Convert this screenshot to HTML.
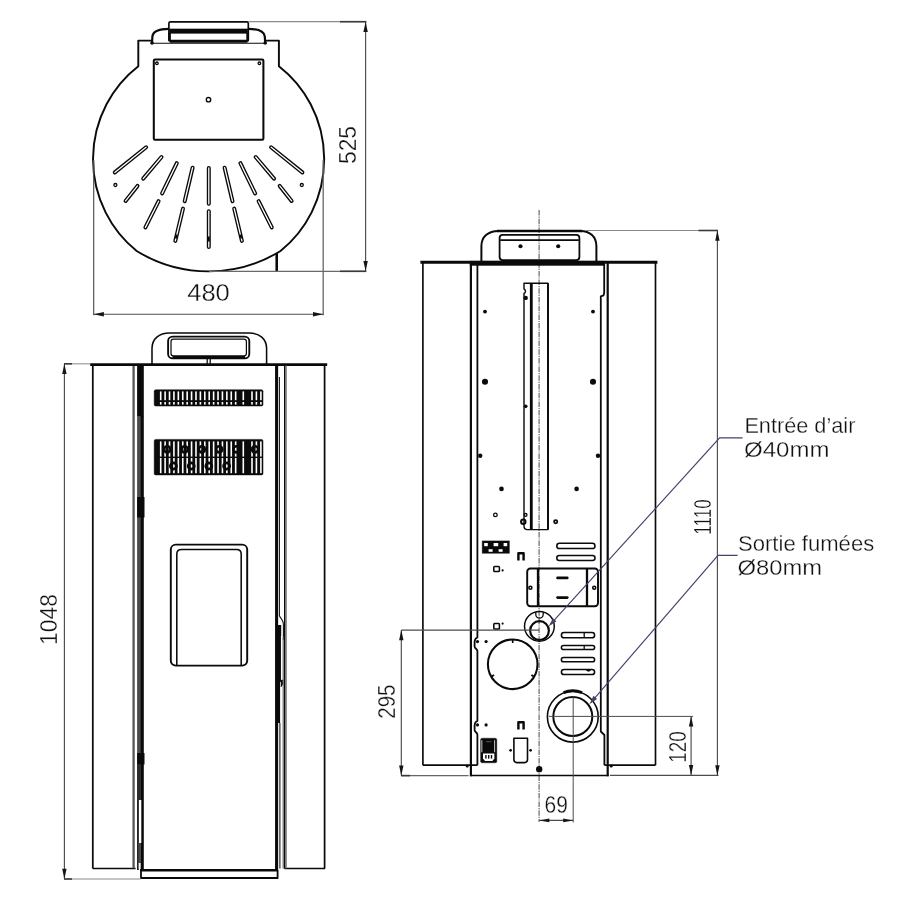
<!DOCTYPE html>
<html lang="fr">
<head>
<meta charset="utf-8">
<title>Dimensions</title>
<style>
html,body{margin:0;padding:0;background:#fff;}
body{width:900px;height:900px;overflow:hidden;}
svg{display:block;will-change:transform;}
text{font-family:"Liberation Sans",sans-serif;}
.t{fill:#111;stroke:#fff;stroke-width:0.3px;}
.n{fill:#111;stroke:#fff;stroke-width:0.3px;}
</style>
</head>
<body>
<svg width="900" height="900" viewBox="0 0 900 900">
<rect width="900" height="900" fill="#fff"/>
<g id="top-view" stroke-linejoin="round">
<path d="M152.0,40.6 L138.3,40.6 L138.3,66.2 A115 117 0 0 0 136.7,251.0 A137 137 0 0 0 280.5,251.0 A115 117 0 0 0 278.9,66.2 L278.9,40.6 L265.2,40.6" stroke="#0a0a0a" stroke-width="1.92" fill="none" />
<line x1="152.00" y1="43.20" x2="265.20" y2="43.20" stroke="#0a0a0a" stroke-width="1.02" />
<rect x="168.90" y="21.80" width="79.40" height="19.40" rx="1.5" stroke="#0a0a0a" stroke-width="1.66" fill="none"/>
<rect x="169.40" y="28.90" width="78.40" height="4.50" rx="0" stroke="#0a0a0a" stroke-width="0.4" fill="#0a0a0a"/>
<line x1="169.80" y1="41.30" x2="247.40" y2="41.30" stroke="#0a0a0a" stroke-width="3.07" />
<line x1="169.60" y1="33.00" x2="169.60" y2="41.00" stroke="#0a0a0a" stroke-width="2.56" />
<line x1="247.60" y1="33.00" x2="247.60" y2="41.00" stroke="#0a0a0a" stroke-width="2.56" />
<path d="M168.9,28.9 C160,28.9 153.2,30.5 152.4,36.5 L152.0,43.5" stroke="#0a0a0a" stroke-width="2.18" fill="none" />
<path d="M248.3,28.9 C257.2,28.9 264,30.5 264.8,36.5 L265.2,43.5" stroke="#0a0a0a" stroke-width="2.18" fill="none" />
<circle cx="152.00" cy="43.00" r="1.83" fill="#0a0a0a"/>
<circle cx="265.20" cy="43.00" r="1.83" fill="#0a0a0a"/>
<rect x="153.80" y="59.50" width="109.60" height="80.30" rx="1.2" stroke="#0a0a0a" stroke-width="2.05" fill="none"/>
<circle cx="156.90" cy="63.30" r="1.30" stroke="#0a0a0a" stroke-width="1.28" fill="none"/>
<circle cx="259.40" cy="63.30" r="1.30" stroke="#0a0a0a" stroke-width="1.28" fill="none"/>
<circle cx="208.50" cy="99.70" r="2.20" stroke="#0a0a0a" stroke-width="1.41" fill="none"/>
<line x1="146.10" y1="147.30" x2="114.80" y2="172.40" stroke="#0a0a0a" stroke-width="4.0" stroke-linecap="round"/>
<line x1="146.10" y1="147.30" x2="114.80" y2="172.40" stroke="#fff" stroke-width="1.3" stroke-linecap="round"/>
<line x1="271.10" y1="147.30" x2="302.40" y2="172.40" stroke="#0a0a0a" stroke-width="4.0" stroke-linecap="round"/>
<line x1="271.10" y1="147.30" x2="302.40" y2="172.40" stroke="#fff" stroke-width="1.3" stroke-linecap="round"/>
<line x1="161.50" y1="157.00" x2="143.20" y2="178.60" stroke="#0a0a0a" stroke-width="4.0" stroke-linecap="round"/>
<line x1="161.50" y1="157.00" x2="143.20" y2="178.60" stroke="#fff" stroke-width="1.3" stroke-linecap="round"/>
<line x1="255.70" y1="157.00" x2="274.00" y2="178.60" stroke="#0a0a0a" stroke-width="4.0" stroke-linecap="round"/>
<line x1="255.70" y1="157.00" x2="274.00" y2="178.60" stroke="#fff" stroke-width="1.3" stroke-linecap="round"/>
<line x1="176.80" y1="163.20" x2="162.10" y2="193.40" stroke="#0a0a0a" stroke-width="4.0" stroke-linecap="round"/>
<line x1="176.80" y1="163.20" x2="162.10" y2="193.40" stroke="#fff" stroke-width="1.3" stroke-linecap="round"/>
<line x1="240.40" y1="163.20" x2="255.10" y2="193.40" stroke="#0a0a0a" stroke-width="4.0" stroke-linecap="round"/>
<line x1="240.40" y1="163.20" x2="255.10" y2="193.40" stroke="#fff" stroke-width="1.3" stroke-linecap="round"/>
<line x1="192.60" y1="167.70" x2="184.70" y2="201.20" stroke="#0a0a0a" stroke-width="4.0" stroke-linecap="round"/>
<line x1="192.60" y1="167.70" x2="184.70" y2="201.20" stroke="#fff" stroke-width="1.3" stroke-linecap="round"/>
<line x1="224.60" y1="167.70" x2="232.50" y2="201.20" stroke="#0a0a0a" stroke-width="4.0" stroke-linecap="round"/>
<line x1="224.60" y1="167.70" x2="232.50" y2="201.20" stroke="#fff" stroke-width="1.3" stroke-linecap="round"/>
<line x1="137.50" y1="185.90" x2="125.60" y2="200.90" stroke="#0a0a0a" stroke-width="4.0" stroke-linecap="round"/>
<line x1="137.50" y1="185.90" x2="125.60" y2="200.90" stroke="#fff" stroke-width="1.3" stroke-linecap="round"/>
<line x1="279.70" y1="185.90" x2="291.60" y2="200.90" stroke="#0a0a0a" stroke-width="4.0" stroke-linecap="round"/>
<line x1="279.70" y1="185.90" x2="291.60" y2="200.90" stroke="#fff" stroke-width="1.3" stroke-linecap="round"/>
<line x1="158.60" y1="201.20" x2="145.40" y2="227.40" stroke="#0a0a0a" stroke-width="4.0" stroke-linecap="round"/>
<line x1="158.60" y1="201.20" x2="145.40" y2="227.40" stroke="#fff" stroke-width="1.3" stroke-linecap="round"/>
<line x1="258.60" y1="201.20" x2="271.80" y2="227.40" stroke="#0a0a0a" stroke-width="4.0" stroke-linecap="round"/>
<line x1="258.60" y1="201.20" x2="271.80" y2="227.40" stroke="#fff" stroke-width="1.3" stroke-linecap="round"/>
<line x1="183.00" y1="208.60" x2="175.30" y2="240.90" stroke="#0a0a0a" stroke-width="4.0" stroke-linecap="round"/>
<line x1="183.00" y1="208.60" x2="175.30" y2="240.90" stroke="#fff" stroke-width="1.3" stroke-linecap="round"/>
<line x1="234.20" y1="208.60" x2="241.90" y2="240.90" stroke="#0a0a0a" stroke-width="4.0" stroke-linecap="round"/>
<line x1="234.20" y1="208.60" x2="241.90" y2="240.90" stroke="#fff" stroke-width="1.3" stroke-linecap="round"/>
<line x1="208.80" y1="167.90" x2="208.80" y2="203.80" stroke="#0a0a0a" stroke-width="4.0" stroke-linecap="round"/>
<line x1="208.80" y1="167.90" x2="208.80" y2="203.80" stroke="#fff" stroke-width="1.3" stroke-linecap="round"/>
<line x1="208.80" y1="211.20" x2="208.80" y2="247.00" stroke="#0a0a0a" stroke-width="4.0" stroke-linecap="round"/>
<line x1="208.80" y1="211.20" x2="208.80" y2="247.00" stroke="#fff" stroke-width="1.3" stroke-linecap="round"/>
<line x1="176.60" y1="234.50" x2="175.80" y2="238.50" stroke="#0a0a0a" stroke-width="2.05" />
<line x1="208.80" y1="236.50" x2="208.80" y2="241.50" stroke="#0a0a0a" stroke-width="2.05" />
<line x1="240.60" y1="234.50" x2="241.40" y2="238.50" stroke="#0a0a0a" stroke-width="2.05" />
<circle cx="115.40" cy="185.00" r="1.50" stroke="#0a0a0a" stroke-width="1.28" fill="none"/>
<circle cx="301.80" cy="185.00" r="1.50" stroke="#0a0a0a" stroke-width="1.28" fill="none"/>
<line x1="276.70" y1="253.00" x2="276.70" y2="271.00" stroke="#0a0a0a" stroke-width="2.56" />
</g>
<g id="front-view" stroke-linejoin="round">
<path d="M152.0,364 L152.0,348.5 C152.0,339 159,333.0 169.5,333.0 L249.0,333.0 C259.5,333.0 266.6,339 266.6,348.5 L266.6,364" stroke="#0a0a0a" stroke-width="1.54" fill="none" />
<rect x="168.10" y="336.60" width="81.20" height="21.80" rx="4.5" stroke="#0a0a0a" stroke-width="1.86" fill="none"/>
<rect x="171.00" y="339.10" width="75.40" height="16.80" rx="2.4" stroke="#0a0a0a" stroke-width="1.22" fill="none"/>
<line x1="172.50" y1="357.40" x2="245.00" y2="357.40" stroke="#0a0a0a" stroke-width="2.94" />
<line x1="207.20" y1="357.60" x2="207.20" y2="364.00" stroke="#0a0a0a" stroke-width="1.28" />
<line x1="210.20" y1="357.60" x2="210.20" y2="364.00" stroke="#0a0a0a" stroke-width="1.28" />
<line x1="90.20" y1="364.70" x2="327.20" y2="364.70" stroke="#0a0a0a" stroke-width="2.82" />
<line x1="92.80" y1="365.00" x2="92.80" y2="868.60" stroke="#0a0a0a" stroke-width="1.73" />
<line x1="324.60" y1="365.00" x2="324.60" y2="868.60" stroke="#0a0a0a" stroke-width="1.73" />
<line x1="92.70" y1="868.60" x2="135.60" y2="868.60" stroke="#0a0a0a" stroke-width="1.54" />
<line x1="284.40" y1="868.60" x2="325.00" y2="868.60" stroke="#0a0a0a" stroke-width="1.54" />
<line x1="133.60" y1="366.00" x2="133.60" y2="868.20" stroke="#565656" stroke-width="2.3" />
<rect x="137.1" y="365.5" width="6.7" height="51" fill="#0a0a0a"/>
<rect x="137.1" y="416" width="3.4" height="384" fill="#4a4a4a"/>
<rect x="140.3" y="416" width="3.5" height="454" fill="#0a0a0a"/>
<rect x="137.1" y="497" width="7.4" height="20.5" fill="#0a0a0a"/>
<rect x="137.1" y="753" width="7.4" height="11.5" fill="#0a0a0a"/>
<rect x="137.1" y="764" width="3.4" height="36" fill="#2a2a2a"/>
<rect x="138.7" y="800" width="2.6" height="43" fill="#fff"/>
<rect x="137.1" y="800" width="1.7" height="70" fill="#0a0a0a"/>
<rect x="138.7" y="843" width="2.0" height="20" fill="#4a4a4a"/>
<rect x="138.7" y="863" width="1.8" height="6" fill="#fff"/>
<line x1="276.60" y1="365.00" x2="276.60" y2="870.00" stroke="#0a0a0a" stroke-width="3.07" />
<line x1="279.40" y1="377.00" x2="279.40" y2="616.00" stroke="#0a0a0a" stroke-width="1.02" />
<path d="M279.4,615.5 C280.2,618.5 283.2,619 283.4,624 L283.4,640" stroke="#0a0a0a" stroke-width="1.02" fill="none" />
<line x1="278.90" y1="625.00" x2="278.90" y2="636.00" stroke="#0a0a0a" stroke-width="4.61" />
<line x1="278.40" y1="636.00" x2="278.40" y2="682.00" stroke="#0a0a0a" stroke-width="5.12" />
<line x1="278.00" y1="682.00" x2="278.00" y2="723.00" stroke="#0a0a0a" stroke-width="4.22" />
<path d="M281.0,680 L283.2,680 L283.2,684 L281.0,687 Z" stroke="#0a0a0a" stroke-width="0.4" fill="#0a0a0a" />
<line x1="279.90" y1="723.00" x2="279.90" y2="868.60" stroke="#0a0a0a" stroke-width="1.02" />
<line x1="283.20" y1="637.00" x2="283.20" y2="868.60" stroke="#666" stroke-width="1.2" />
<rect x="284.0" y="365.5" width="1.4" height="503" fill="#0a0a0a"/>
<rect x="285.4" y="365.5" width="1.3" height="503" fill="#666"/>
<path d="M141.0,870 L141.0,878.0 L277.6,878.0 L277.6,870" stroke="#0a0a0a" stroke-width="1.79" fill="none" />
<line x1="140.00" y1="870.20" x2="278.00" y2="870.20" stroke="#0a0a0a" stroke-width="2.56" />
<rect x="154.20" y="389.80" width="108.80" height="16.20" rx="1.5" stroke="#0a0a0a" stroke-width="0.5" fill="#0a0a0a"/>
<rect x="159.90" y="391.4" width="1.6" height="8.8" fill="#fff"/>
<rect x="159.90" y="402.0" width="1.6" height="2.6" fill="#fff"/>
<rect x="164.31" y="391.4" width="1.6" height="8.8" fill="#fff"/>
<rect x="164.31" y="402.0" width="1.6" height="2.6" fill="#fff"/>
<rect x="168.72" y="391.4" width="1.6" height="8.8" fill="#fff"/>
<rect x="168.72" y="402.0" width="1.6" height="2.6" fill="#fff"/>
<rect x="173.13" y="391.4" width="1.6" height="8.8" fill="#fff"/>
<rect x="173.13" y="402.0" width="1.6" height="2.6" fill="#fff"/>
<rect x="177.54" y="391.4" width="1.6" height="8.8" fill="#fff"/>
<rect x="177.54" y="402.0" width="1.6" height="2.6" fill="#fff"/>
<rect x="181.95" y="391.4" width="1.6" height="8.8" fill="#fff"/>
<rect x="181.95" y="402.0" width="1.6" height="2.6" fill="#fff"/>
<rect x="186.36" y="391.4" width="1.6" height="8.8" fill="#fff"/>
<rect x="186.36" y="402.0" width="1.6" height="2.6" fill="#fff"/>
<rect x="190.77" y="391.4" width="1.6" height="8.8" fill="#fff"/>
<rect x="190.77" y="402.0" width="1.6" height="2.6" fill="#fff"/>
<rect x="195.18" y="391.4" width="1.6" height="8.8" fill="#fff"/>
<rect x="195.18" y="402.0" width="1.6" height="2.6" fill="#fff"/>
<rect x="199.59" y="391.4" width="1.6" height="8.8" fill="#fff"/>
<rect x="199.59" y="402.0" width="1.6" height="2.6" fill="#fff"/>
<rect x="204.00" y="391.4" width="1.6" height="8.8" fill="#fff"/>
<rect x="204.00" y="402.0" width="1.6" height="2.6" fill="#fff"/>
<rect x="208.41" y="391.4" width="1.6" height="8.8" fill="#fff"/>
<rect x="208.41" y="402.0" width="1.6" height="2.6" fill="#fff"/>
<rect x="212.82" y="391.4" width="1.6" height="8.8" fill="#fff"/>
<rect x="212.82" y="402.0" width="1.6" height="2.6" fill="#fff"/>
<rect x="217.23" y="391.4" width="1.6" height="8.8" fill="#fff"/>
<rect x="217.23" y="402.0" width="1.6" height="2.6" fill="#fff"/>
<rect x="221.64" y="391.4" width="1.6" height="8.8" fill="#fff"/>
<rect x="221.64" y="402.0" width="1.6" height="2.6" fill="#fff"/>
<rect x="226.05" y="391.4" width="1.6" height="8.8" fill="#fff"/>
<rect x="226.05" y="402.0" width="1.6" height="2.6" fill="#fff"/>
<rect x="230.46" y="391.4" width="1.6" height="8.8" fill="#fff"/>
<rect x="230.46" y="402.0" width="1.6" height="2.6" fill="#fff"/>
<rect x="234.87" y="391.4" width="1.6" height="8.8" fill="#fff"/>
<rect x="234.87" y="402.0" width="1.6" height="2.6" fill="#fff"/>
<rect x="242.50" y="391.4" width="1.6" height="8.8" fill="#fff"/>
<rect x="242.50" y="402.0" width="1.6" height="2.6" fill="#fff"/>
<rect x="251.20" y="391.4" width="1.6" height="8.8" fill="#fff"/>
<rect x="251.20" y="402.0" width="1.6" height="2.6" fill="#fff"/>
<rect x="255.60" y="391.4" width="1.6" height="8.8" fill="#fff"/>
<rect x="255.60" y="402.0" width="1.6" height="2.6" fill="#fff"/>
<rect x="260.10" y="391.4" width="1.6" height="8.8" fill="#fff"/>
<rect x="260.10" y="402.0" width="1.6" height="2.6" fill="#fff"/>
<rect x="154.20" y="439.40" width="108.80" height="35.50" rx="1.5" stroke="#0a0a0a" stroke-width="0.5" fill="#0a0a0a"/>
<rect x="159.90" y="441.4" width="1.6" height="15.2" fill="#fff"/>
<rect x="159.90" y="458.0" width="1.6" height="15.2" fill="#fff"/>
<rect x="164.31" y="441.4" width="1.6" height="15.2" fill="#fff"/>
<rect x="164.31" y="458.0" width="1.6" height="15.2" fill="#fff"/>
<rect x="168.72" y="441.4" width="1.6" height="15.2" fill="#fff"/>
<rect x="168.72" y="458.0" width="1.6" height="15.2" fill="#fff"/>
<rect x="173.13" y="441.4" width="1.6" height="15.2" fill="#fff"/>
<rect x="173.13" y="458.0" width="1.6" height="15.2" fill="#fff"/>
<rect x="177.54" y="441.4" width="1.6" height="15.2" fill="#fff"/>
<rect x="177.54" y="458.0" width="1.6" height="15.2" fill="#fff"/>
<rect x="181.95" y="441.4" width="1.6" height="15.2" fill="#fff"/>
<rect x="181.95" y="458.0" width="1.6" height="15.2" fill="#fff"/>
<rect x="186.36" y="441.4" width="1.6" height="15.2" fill="#fff"/>
<rect x="186.36" y="458.0" width="1.6" height="15.2" fill="#fff"/>
<rect x="190.77" y="441.4" width="1.6" height="15.2" fill="#fff"/>
<rect x="190.77" y="458.0" width="1.6" height="15.2" fill="#fff"/>
<rect x="195.18" y="441.4" width="1.6" height="15.2" fill="#fff"/>
<rect x="195.18" y="458.0" width="1.6" height="15.2" fill="#fff"/>
<rect x="199.59" y="441.4" width="1.6" height="15.2" fill="#fff"/>
<rect x="199.59" y="458.0" width="1.6" height="15.2" fill="#fff"/>
<rect x="204.00" y="441.4" width="1.6" height="15.2" fill="#fff"/>
<rect x="204.00" y="458.0" width="1.6" height="15.2" fill="#fff"/>
<rect x="208.41" y="441.4" width="1.6" height="15.2" fill="#fff"/>
<rect x="208.41" y="458.0" width="1.6" height="15.2" fill="#fff"/>
<rect x="212.82" y="441.4" width="1.6" height="15.2" fill="#fff"/>
<rect x="212.82" y="458.0" width="1.6" height="15.2" fill="#fff"/>
<rect x="217.23" y="441.4" width="1.6" height="15.2" fill="#fff"/>
<rect x="217.23" y="458.0" width="1.6" height="15.2" fill="#fff"/>
<rect x="221.64" y="441.4" width="1.6" height="15.2" fill="#fff"/>
<rect x="221.64" y="458.0" width="1.6" height="15.2" fill="#fff"/>
<rect x="226.05" y="441.4" width="1.6" height="15.2" fill="#fff"/>
<rect x="226.05" y="458.0" width="1.6" height="15.2" fill="#fff"/>
<rect x="230.46" y="441.4" width="1.6" height="15.2" fill="#fff"/>
<rect x="230.46" y="458.0" width="1.6" height="15.2" fill="#fff"/>
<rect x="234.87" y="441.4" width="1.6" height="15.2" fill="#fff"/>
<rect x="234.87" y="458.0" width="1.6" height="15.2" fill="#fff"/>
<rect x="242.50" y="441.4" width="1.6" height="15.2" fill="#fff"/>
<rect x="242.50" y="458.0" width="1.6" height="15.2" fill="#fff"/>
<rect x="251.20" y="441.4" width="1.6" height="15.2" fill="#fff"/>
<rect x="251.20" y="458.0" width="1.6" height="15.2" fill="#fff"/>
<rect x="255.60" y="441.4" width="1.6" height="15.2" fill="#fff"/>
<rect x="255.60" y="458.0" width="1.6" height="15.2" fill="#fff"/>
<rect x="260.10" y="441.4" width="1.6" height="15.2" fill="#fff"/>
<rect x="260.10" y="458.0" width="1.6" height="15.2" fill="#fff"/>
<circle cx="167.30" cy="449.3" r="3.1" fill="none" stroke="#0a0a0a" stroke-width="2.6"/>
<circle cx="184.60" cy="449.3" r="3.1" fill="none" stroke="#0a0a0a" stroke-width="2.6"/>
<circle cx="201.90" cy="449.3" r="3.1" fill="none" stroke="#0a0a0a" stroke-width="2.6"/>
<circle cx="219.20" cy="449.3" r="3.1" fill="none" stroke="#0a0a0a" stroke-width="2.6"/>
<circle cx="236.50" cy="449.3" r="3.1" fill="none" stroke="#0a0a0a" stroke-width="2.6"/>
<circle cx="255.00" cy="449.3" r="3.1" fill="none" stroke="#0a0a0a" stroke-width="2.6"/>
<circle cx="173.40" cy="466.0" r="3.1" fill="none" stroke="#0a0a0a" stroke-width="2.6"/>
<circle cx="191.20" cy="466.0" r="3.1" fill="none" stroke="#0a0a0a" stroke-width="2.6"/>
<circle cx="208.80" cy="466.0" r="3.1" fill="none" stroke="#0a0a0a" stroke-width="2.6"/>
<circle cx="226.60" cy="466.0" r="3.1" fill="none" stroke="#0a0a0a" stroke-width="2.6"/>
<rect x="170.80" y="544.60" width="76.40" height="121.00" rx="5" stroke="#0a0a0a" stroke-width="1.92" fill="none"/>
<path d="M176.8,665.2 L176.8,554 C176.8,551 178.5,549.4 181.5,549.4 L236.5,549.4 C239.5,549.4 241.2,551 241.2,554 L241.2,665.2" stroke="#0a0a0a" stroke-width="1.54" fill="none" />
</g>
<g id="rear-view" stroke-linejoin="round">
<line x1="539.10" y1="210.00" x2="539.10" y2="822.00" stroke="#6c6c6c" stroke-width="1.25" stroke-dasharray="5.5 1 1.2 1"/>
<line x1="497.00" y1="231.00" x2="582.00" y2="231.00" stroke="#0a0a0a" stroke-width="2.43" />
<path d="M481.4,262 L481.4,246 C481.4,237 488,230.9 498.5,230.9 L580.5,230.9 C590,230.9 596.4,237 596.4,246 L596.4,262" stroke="#0a0a0a" stroke-width="1.98" fill="none" />
<rect x="499.60" y="234.90" width="79.80" height="25.20" rx="3" stroke="#0a0a0a" stroke-width="1.79" fill="none"/>
<line x1="500.20" y1="240.10" x2="578.80" y2="240.10" stroke="#0a0a0a" stroke-width="1.6" />
<circle cx="520.50" cy="246.30" r="2.07" fill="#0a0a0a"/>
<circle cx="558.20" cy="246.30" r="2.07" fill="#0a0a0a"/>
<line x1="420.40" y1="262.30" x2="657.40" y2="262.30" stroke="#0a0a0a" stroke-width="2.94" />
<rect x="469.8" y="260.9" width="135.0" height="4.8" fill="#0a0a0a"/>
<line x1="422.90" y1="263.00" x2="422.90" y2="765.20" stroke="#0a0a0a" stroke-width="1.66" />
<line x1="655.50" y1="263.00" x2="655.50" y2="765.20" stroke="#0a0a0a" stroke-width="1.66" />
<line x1="422.90" y1="765.20" x2="477.40" y2="765.20" stroke="#0a0a0a" stroke-width="1.66" />
<line x1="604.40" y1="765.20" x2="655.50" y2="765.20" stroke="#0a0a0a" stroke-width="1.66" />
<line x1="470.90" y1="263.00" x2="470.90" y2="776.20" stroke="#0a0a0a" stroke-width="2.18" />
<line x1="607.70" y1="263.00" x2="607.70" y2="776.20" stroke="#0a0a0a" stroke-width="2.18" />
<line x1="470.00" y1="775.50" x2="608.60" y2="775.50" stroke="#0a0a0a" stroke-width="1.6" />
<path d="M477.4,263 L477.4,637.5 C474.6,638.5 474.6,640 474.6,642 L474.6,646.5 C474.6,648.5 477.4,649 477.4,651 L477.4,721 C474.6,722 474.6,723.5 474.6,725.5 L474.6,730 C474.6,732 477.4,732.5 477.4,734.5 L477.4,765.2" stroke="#0a0a0a" stroke-width="1.79" fill="none" />
<path d="M604.2,263 L604.2,292.5 L603.6,295.4 L600.8,296.4 L600.8,731.5 L604.4,735 L604.4,765.2" stroke="#0a0a0a" stroke-width="1.79" fill="none" />
<path d="M548.0,529.6 L548.0,283.2 L524.0,283.2 L524.0,289 C526,290 526,292.5 524.0,293.5 L524.0,526 C524.0,528.5 525,529.6 527.5,529.6 Z" stroke="#0a0a0a" stroke-width="1.41" fill="none" />
<line x1="548.00" y1="283.20" x2="548.00" y2="529.60" stroke="#0a0a0a" stroke-width="1.86" />
<line x1="531.30" y1="283.20" x2="531.30" y2="529.60" stroke="#0a0a0a" stroke-width="2.82" />
<circle cx="485.00" cy="311.60" r="1.95" fill="#0a0a0a"/>
<circle cx="593.00" cy="311.60" r="1.95" fill="#0a0a0a"/>
<circle cx="485.00" cy="381.70" r="3.05" fill="#0a0a0a"/>
<circle cx="593.00" cy="381.70" r="3.05" fill="#0a0a0a"/>
<circle cx="480.20" cy="455.80" r="2.20" fill="#0a0a0a"/>
<circle cx="598.00" cy="455.80" r="2.20" fill="#0a0a0a"/>
<circle cx="501.50" cy="488.90" r="2.32" fill="#0a0a0a"/>
<circle cx="576.60" cy="488.90" r="2.32" fill="#0a0a0a"/>
<circle cx="525.70" cy="297.90" r="2.20" fill="#0a0a0a"/>
<circle cx="525.70" cy="406.30" r="1.83" fill="#0a0a0a"/>
<circle cx="495.40" cy="514.90" r="1.80" stroke="#0a0a0a" stroke-width="1.28" fill="none"/>
<circle cx="525.60" cy="514.90" r="1.40" stroke="#0a0a0a" stroke-width="1.28" fill="none"/>
<circle cx="523.30" cy="521.70" r="2.20" stroke="#0a0a0a" stroke-width="2.05" fill="none"/>
<circle cx="555.70" cy="521.70" r="1.60" stroke="#0a0a0a" stroke-width="1.79" fill="none"/>
<rect x="482.20" y="540.90" width="27.20" height="12.40" rx="0" stroke="#0a0a0a" stroke-width="0.4" fill="#0a0a0a"/>
<rect x="484.2" y="543.0" width="3.6" height="3.2" fill="#fff"/>
<rect x="493.6" y="543.0" width="4.6" height="3.2" fill="#fff"/>
<rect x="503.6" y="543.0" width="3.6" height="3.2" fill="#fff"/>
<rect x="488.6" y="549.2" width="4.0" height="2.6" fill="#fff"/>
<rect x="498.6" y="549.2" width="4.0" height="2.6" fill="#fff"/>
<path d="M518.4,560.4 L518.4,553.2 L523.6,553.2 L523.6,560.4" stroke="#0a0a0a" stroke-width="2.43" fill="none" />
<path d="M518.4,729.4 L518.4,722.2 L523.6,722.2 L523.6,729.4" stroke="#0a0a0a" stroke-width="2.43" fill="none" />
<rect x="493.80" y="566.40" width="5.60" height="5.20" rx="0.8" stroke="#0a0a0a" stroke-width="1.54" fill="none"/>
<circle cx="502.60" cy="570.40" r="1.10" fill="#0a0a0a"/>
<rect x="493.80" y="623.40" width="5.60" height="5.60" rx="0.8" stroke="#0a0a0a" stroke-width="1.54" fill="none"/>
<circle cx="502.60" cy="623.60" r="1.10" fill="#0a0a0a"/>
<rect x="556.80" y="543.20" width="38.20" height="5.40" rx="2.6999999999999886" stroke="#0a0a0a" stroke-width="1.54" fill="none"/>
<rect x="556.80" y="555.50" width="38.20" height="4.90" rx="2.4499999999999886" stroke="#0a0a0a" stroke-width="1.54" fill="none"/>
<rect x="561.40" y="632.60" width="33.20" height="5.20" rx="2.599999999999966" stroke="#0a0a0a" stroke-width="1.54" fill="none"/>
<rect x="561.40" y="645.50" width="33.20" height="4.10" rx="2.0500000000000114" stroke="#0a0a0a" stroke-width="1.54" fill="none"/>
<rect x="561.40" y="657.60" width="33.20" height="4.20" rx="2.099999999999966" stroke="#0a0a0a" stroke-width="1.54" fill="none"/>
<rect x="561.40" y="669.40" width="33.20" height="5.20" rx="2.6000000000000227" stroke="#0a0a0a" stroke-width="1.54" fill="none"/>
<line x1="584.20" y1="632.60" x2="584.20" y2="637.80" stroke="#0a0a0a" stroke-width="1.28" />
<line x1="584.20" y1="645.50" x2="584.20" y2="649.60" stroke="#0a0a0a" stroke-width="1.28" />
<path d="M586,669.6 A2.6 2.6 0 0 0 591,669.6 Z" stroke="#0a0a0a" stroke-width="0.3" fill="#0a0a0a" />
<rect x="527.20" y="568.50" width="70.80" height="37.80" rx="3.2" stroke="#0a0a0a" stroke-width="1.92" fill="none"/>
<line x1="538.00" y1="568.50" x2="538.00" y2="606.30" stroke="#0a0a0a" stroke-width="2.3" />
<line x1="587.00" y1="568.50" x2="587.00" y2="606.30" stroke="#0a0a0a" stroke-width="2.3" />
<circle cx="530.40" cy="587.70" r="1.50" stroke="#0a0a0a" stroke-width="1.54" fill="none"/>
<circle cx="594.20" cy="587.70" r="1.50" stroke="#0a0a0a" stroke-width="1.54" fill="none"/>
<line x1="557.60" y1="577.90" x2="567.20" y2="577.90" stroke="#0a0a0a" stroke-width="2.82" stroke-linecap="round"/>
<line x1="557.60" y1="597.60" x2="567.20" y2="597.60" stroke="#0a0a0a" stroke-width="2.82" stroke-linecap="round"/>
<circle cx="539.40" cy="626.30" r="14.90" stroke="#0a0a0a" stroke-width="1.47" fill="none"/>
<circle cx="539.50" cy="630.60" r="9.40" stroke="#0a0a0a" stroke-width="2.18" fill="none"/>
<path d="M535.8,612.0 L535.8,614.4 A3.7 3.7 0 0 0 543.2,614.4 L543.2,612.0" stroke="#0a0a0a" stroke-width="1.28" fill="none" />
<circle cx="512.70" cy="664.30" r="24.80" stroke="#0a0a0a" stroke-width="2.05" fill="none"/>
<line x1="512.70" y1="639.60" x2="512.70" y2="643.00" stroke="#0a0a0a" stroke-width="1.66" />
<line x1="491.20" y1="676.80" x2="494.00" y2="675.00" stroke="#0a0a0a" stroke-width="1.92" />
<line x1="534.20" y1="676.80" x2="531.40" y2="675.00" stroke="#0a0a0a" stroke-width="1.92" />
<circle cx="572.80" cy="716.70" r="25.40" stroke="#0a0a0a" stroke-width="1.6" fill="none"/>
<circle cx="572.80" cy="716.50" r="19.50" stroke="#0a0a0a" stroke-width="1.98" fill="none"/>
<path d="M563.6,692.6 A25.0 25.0 0 0 1 582.0,692.6" stroke="#0a0a0a" stroke-width="2.94" fill="none" />
<rect x="480.60" y="738.20" width="16.20" height="24.60" rx="1.6" stroke="#0a0a0a" stroke-width="0.4" fill="#0a0a0a"/>
<rect x="481.4" y="740.2" width="0.9" height="12" fill="#ddd"/>
<rect x="494.2" y="740.2" width="0.9" height="12" fill="#ddd"/>
<rect x="486.0" y="741.2" width="5.4" height="1.0" fill="#555"/>
<path d="M483.0,753.4 L494.4,753.4 L494.4,758.4 L492.4,761.0 L485.0,761.0 L483.0,758.4 Z" stroke="#0a0a0a" stroke-width="0" fill="#fff" />
<rect x="485.2" y="755.0" width="1.4" height="3.6" fill="#0a0a0a"/>
<rect x="488.0" y="755.0" width="1.4" height="3.6" fill="#0a0a0a"/>
<rect x="490.8" y="755.0" width="1.4" height="3.6" fill="#0a0a0a"/>
<path d="M513.9,738.2 L527.5,738.2 L527.5,759.6 Q527.5,762.6 524.5,762.6 L516.9,762.6 Q513.9,762.6 513.9,759.6 Z" stroke="#0a0a0a" stroke-width="1.6" fill="none" />
<circle cx="510.60" cy="750.30" r="1.34" fill="#0a0a0a"/>
<circle cx="530.60" cy="750.30" r="1.34" fill="#0a0a0a"/>
<circle cx="467.20" cy="766.00" r="1.59" fill="#0a0a0a"/>
<circle cx="611.20" cy="766.00" r="1.59" fill="#0a0a0a"/>
<circle cx="477.50" cy="641.60" r="1.59" fill="#0a0a0a"/>
<circle cx="486.10" cy="641.60" r="1.59" fill="#0a0a0a"/>
<circle cx="477.50" cy="724.90" r="1.59" fill="#0a0a0a"/>
<circle cx="486.10" cy="724.90" r="1.59" fill="#0a0a0a"/>
<circle cx="539.20" cy="769.20" r="3.17" fill="#0a0a0a"/>
</g>
<g id="dims">
<line x1="248.50" y1="21.70" x2="366.00" y2="21.70" stroke="#8a8a8a" stroke-width="1.2" />
<line x1="340.00" y1="21.70" x2="366.40" y2="21.70" stroke="#3a3a3a" stroke-width="1.6" />
<line x1="209.00" y1="271.30" x2="366.00" y2="271.30" stroke="#6a6a6a" stroke-width="1.2" />
<line x1="340.00" y1="271.30" x2="366.40" y2="271.30" stroke="#3a3a3a" stroke-width="1.6" />
<line x1="365.60" y1="21.70" x2="365.60" y2="271.10" stroke="#4c4c4c" stroke-width="1.15" />
<polygon points="365.60,21.70 367.80,31.90 363.40,31.90" fill="#151515"/>
<polygon points="365.60,271.10 363.40,260.90 367.80,260.90" fill="#151515"/>
<text class="n" x="356.40" y="145.00" font-size="24.2" text-anchor="middle" textLength="38.0" lengthAdjust="spacingAndGlyphs" transform="rotate(-90 356.40 145.00)">525</text>
<line x1="93.70" y1="160.00" x2="93.70" y2="315.20" stroke="#4c4c4c" stroke-width="1.15" />
<line x1="323.20" y1="160.00" x2="323.20" y2="315.20" stroke="#666" stroke-width="1.3" />
<line x1="93.70" y1="314.20" x2="323.20" y2="314.20" stroke="#4c4c4c" stroke-width="1.15" />
<polygon points="93.70,314.20 103.90,312.00 103.90,316.40" fill="#151515"/>
<polygon points="323.20,314.20 313.00,316.40 313.00,312.00" fill="#151515"/>
<text class="n" x="208.50" y="301.00" font-size="24.2" text-anchor="middle" textLength="42.6" lengthAdjust="spacingAndGlyphs">480</text>
<line x1="64.40" y1="363.80" x2="90.00" y2="363.80" stroke="#9a9a9a" stroke-width="1.2" />
<line x1="64.00" y1="363.80" x2="72.00" y2="363.80" stroke="#3a3a3a" stroke-width="1.6" />
<line x1="64.40" y1="879.00" x2="140.50" y2="879.00" stroke="#8a8a8a" stroke-width="1.2" />
<line x1="64.00" y1="879.00" x2="72.00" y2="879.00" stroke="#3a3a3a" stroke-width="1.6" />
<line x1="64.40" y1="363.80" x2="64.40" y2="879.00" stroke="#4c4c4c" stroke-width="1.15" />
<polygon points="64.40,363.80 66.60,374.00 62.20,374.00" fill="#151515"/>
<polygon points="64.40,879.00 62.20,868.80 66.60,868.80" fill="#151515"/>
<text class="n" x="57.40" y="619.40" font-size="24.2" text-anchor="middle" textLength="51.0" lengthAdjust="spacingAndGlyphs" transform="rotate(-90 57.40 619.40)">1048</text>
<line x1="401.30" y1="630.10" x2="539.00" y2="630.10" stroke="#4c4c4c" stroke-width="1.15" />
<line x1="401.30" y1="775.60" x2="468.60" y2="775.60" stroke="#666" stroke-width="1.2" />
<line x1="401.00" y1="775.60" x2="410.00" y2="775.60" stroke="#3a3a3a" stroke-width="1.6" />
<line x1="401.30" y1="630.10" x2="401.30" y2="775.60" stroke="#4c4c4c" stroke-width="1.15" />
<polygon points="401.30,630.10 403.50,640.30 399.10,640.30" fill="#151515"/>
<polygon points="401.30,775.60 399.10,765.40 403.50,765.40" fill="#151515"/>
<text class="n" x="395.00" y="701.60" font-size="23.4" text-anchor="middle" textLength="34.2" lengthAdjust="spacingAndGlyphs" transform="rotate(-90 395.00 701.60)">295</text>
<line x1="548.80" y1="716.40" x2="693.00" y2="716.40" stroke="#4c4c4c" stroke-width="1.0" />
<line x1="691.10" y1="716.30" x2="691.10" y2="775.30" stroke="#4c4c4c" stroke-width="1.15" />
<polygon points="691.10,716.30 693.30,726.50 688.90,726.50" fill="#151515"/>
<polygon points="691.10,775.30 688.90,765.10 693.30,765.10" fill="#151515"/>
<text class="n" x="685.60" y="747.00" font-size="23.4" text-anchor="middle" textLength="31.6" lengthAdjust="spacingAndGlyphs" transform="rotate(-90 685.60 747.00)">120</text>
<line x1="585.00" y1="230.50" x2="717.50" y2="230.50" stroke="#8a8a8a" stroke-width="1.2" />
<line x1="698.50" y1="230.50" x2="718.00" y2="230.50" stroke="#3a3a3a" stroke-width="1.6" />
<line x1="610.00" y1="775.40" x2="718.50" y2="775.40" stroke="#4c4c4c" stroke-width="1.15" />
<line x1="717.40" y1="230.50" x2="717.40" y2="775.40" stroke="#4c4c4c" stroke-width="1.15" />
<polygon points="717.40,230.50 719.60,240.70 715.20,240.70" fill="#151515"/>
<polygon points="717.40,775.40 715.20,765.20 719.60,765.20" fill="#151515"/>
<text class="n" x="710.90" y="517.00" font-size="23.4" text-anchor="middle" textLength="35.3" lengthAdjust="spacingAndGlyphs" transform="rotate(-90 710.90 517.00)">1110</text>
<line x1="573.20" y1="696.00" x2="573.20" y2="822.50" stroke="#4c4c4c" stroke-width="1.0" />
<line x1="539.30" y1="820.40" x2="573.20" y2="820.40" stroke="#4c4c4c" stroke-width="1.15" />
<polygon points="539.30,820.40 549.30,818.50 549.30,822.30" fill="#151515"/>
<polygon points="573.20,820.40 563.20,822.30 563.20,818.50" fill="#151515"/>
<text class="n" x="556.20" y="813.20" font-size="23.4" text-anchor="middle" textLength="23.3" lengthAdjust="spacingAndGlyphs">69</text>
<path d="M742.6,437.8 L719.6,437.8 L550.6,624.2" stroke="#43436a" stroke-width="1.15" fill="none" />
<polygon points="548.60,626.40 552.89,618.13 556.44,621.37" fill="#43436a"/>
<path d="M737.6,555.4 L718.0,555.4 L591.4,701.9" stroke="#43436a" stroke-width="1.15" fill="none" />
<polygon points="589.40,704.20 593.47,695.82 597.10,698.96" fill="#43436a"/>
<text class="t" x="744.40" y="432.60" font-size="21.8" text-anchor="start" textLength="111.0" lengthAdjust="spacingAndGlyphs">Entrée d’air</text>
<text class="t" x="744.00" y="456.60" font-size="21.8" text-anchor="start" textLength="85.4" lengthAdjust="spacingAndGlyphs">Ø40mm</text>
<text class="t" x="738.00" y="551.40" font-size="21.8" text-anchor="start" textLength="136.2" lengthAdjust="spacingAndGlyphs">Sortie fumées</text>
<text class="t" x="737.60" y="575.20" font-size="21.8" text-anchor="start" textLength="84.6" lengthAdjust="spacingAndGlyphs">Ø80mm</text>
</g>
</svg>
</body>
</html>
